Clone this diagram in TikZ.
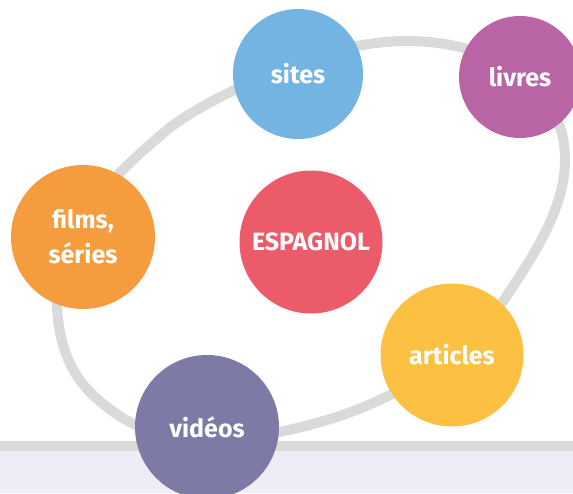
\documentclass[tikz,border=0pt]{standalone}
\usepackage{fontspec}
\setmainfont{Fira Sans}
\definecolor{cSites}{HTML}{74B4E2}
\definecolor{cLivres}{HTML}{B965A5}
\definecolor{cFilms}{HTML}{F59D3E}
\definecolor{cEsp}{HTML}{EC5B69}
\definecolor{cArt}{HTML}{FCC043}
\definecolor{cVid}{HTML}{7E7AA6}
\definecolor{cRing}{HTML}{DADADA}
\definecolor{cBand}{HTML}{EEECF6}
\tikzset{
  bubble/.style={circle, inner sep=0pt, text=white, align=center,
    font=\bfseries\fontsize{25}{35}\selectfont},
  ringline/.style={draw=cRing, line width=10pt, line join=round}
}
\begin{document}
\begin{tikzpicture}[x=1pt,y=-1pt]
\useasboundingbox (0,0) rectangle (573,493);
% bottom band
\fill[cBand] (0,451) rectangle (573,493);
\fill[cRing] (0,441) rectangle (573,451);
% ring
\draw[ringline] (407,41)
  .. controls (495,41) and (566,88) .. (565,160)
  .. controls (565,210) and (531.5,258.5) .. (504,300)
  .. controls (465.5,358) and (394,400) .. (327,420)
  .. controls (288.6,431.6) and (240,441) .. (200,441)
  .. controls (158,441) and (117,420) .. (88,390)
  .. controls (67,368) and (57,335) .. (57,300)
  .. controls (57,230) and (113,175) .. (167,130)
  .. controls (190,111) and (233,90) .. (260,78)
  .. controls (305.5,57.5) and (357,41) .. (407,41) -- cycle;
% bubbles
\node[bubble, fill=cSites, minimum size=130pt] (sites) at (298,74) {sites};
\node[bubble, fill=cLivres, minimum size=122pt] (livres) at (520,77) {livres};
\node[bubble, fill=cFilms, minimum size=144pt] (films) at (83,237) {films,\\séries};
\node[bubble, fill=cEsp, minimum size=143pt] (esp) at (311,242) {ESPAGNOL};
\node[bubble, fill=cArt, minimum size=143pt] (art) at (452,355) {articles};
\node[bubble, fill=cVid, minimum size=144pt] (vid) at (207,427) {vidéos};
\end{tikzpicture}
\end{document}
